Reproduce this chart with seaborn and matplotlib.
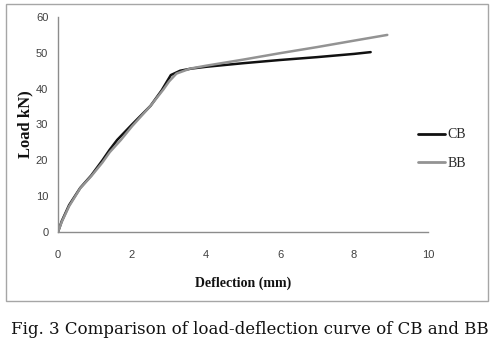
import matplotlib
matplotlib.use("Agg")
import matplotlib.pyplot as plt
import seaborn as sns
import pandas as pd
from matplotlib.patches import Rectangle

# Data
cb_deflection = [0, 0.1, 0.3, 0.6, 0.9, 1.2, 1.4, 1.6, 2.0, 2.5, 2.8, 3.05, 3.3, 3.6, 4.0, 5.0, 6.0, 7.0, 8.0, 8.45]
cb_load = [0, 3, 7.5, 12.3, 15.8, 20.0, 23.0, 25.7, 30.0, 35.2, 39.5, 43.8, 45.0, 45.6, 46.1, 47.1, 48.0, 48.8, 49.7, 50.2]
bb_deflection = [0, 0.1, 0.3, 0.6, 0.9, 1.2, 1.4, 1.7, 2.0, 2.5, 2.85, 3.0, 3.2, 3.57, 4.0, 5.0, 6.0, 7.0, 8.0, 8.9]
bb_load = [0, 2.8, 7.2, 12.2, 15.6, 19.4, 22.3, 25.7, 29.5, 35.2, 39.8, 42.0, 44.2, 45.6, 46.4, 48.1, 49.9, 51.6, 53.4, 55.0]
series = ["CB", "BB"]
x_ticks = [0, 2, 4, 6, 8, 10]
y_ticks = [0, 10, 20, 30, 40, 50, 60]

df = pd.concat([
    pd.DataFrame({"Deflection": cb_deflection, "Load": cb_load, "Beam": "CB"}),
    pd.DataFrame({"Deflection": bb_deflection, "Load": bb_load, "Beam": "BB"}),
])

sns.set_theme(style="white")
plt.rcParams["font.family"] = ["Liberation Serif", "DejaVu Serif"]

W, H = 498, 343
fig = plt.figure(figsize=(W / 100, H / 100), dpi=100)

# outer frame
fig.patches.append(Rectangle((6 / W, 1 - 301 / H), (488 - 6) / W, (301 - 4) / H,
                             transform=fig.transFigure, fill=False,
                             edgecolor="#a6a6a6", linewidth=1.0))

ax = fig.add_axes([58 / W, 1 - 232 / H, (428 - 58) / W, (232 - 17) / H])
sns.lineplot(data=df, x="Deflection", y="Load", hue="Beam", hue_order=series,
             palette={"CB": "#111111", "BB": "#939393"}, sort=False,
             estimator=None, linewidth=1.8, ax=ax)

ax.set_xlim(0, 10)
ax.set_ylim(0, 60)
ax.set_xticks(x_ticks)
ax.set_yticks(y_ticks)
tick_font = ["Liberation Sans", "DejaVu Sans"]
ax.set_xticklabels([str(v) for v in x_ticks], family=tick_font, fontsize=8, color="#404040")
ax.set_yticklabels([str(v) for v in y_ticks], family=tick_font, fontsize=8, color="#404040")
ax.tick_params(axis="x", length=0, pad=13)
ax.tick_params(axis="y", length=0, pad=7)
for s in ["top", "right"]:
    ax.spines[s].set_visible(False)
for s in ["left", "bottom"]:
    ax.spines[s].set_color("#8c8c8c")
    ax.spines[s].set_linewidth(1.0)
ax.grid(False)
ax.set_facecolor("white")

ax.set_xlabel("Deflection (mm)", fontsize=10, fontweight="bold", color="#111111", labelpad=12)
ax.set_ylabel("Load kN)", fontsize=12, fontweight="bold", color="#111111", labelpad=2)

leg = ax.legend(loc="center left", bbox_to_anchor=(405 / W, 1 - 149 / H),
                bbox_transform=fig.transFigure, frameon=False,
                prop={"family": "Liberation Serif", "size": 10},
                handlelength=2.0, handletextpad=0.15, labelspacing=1.1)
for line in leg.get_lines():
    line.set_linewidth(2.0)

fig.text(250 / W, 1 - 330 / H, "Fig. 3 Comparison of load-deflection curve of CB and BB",
         ha="center", va="center", fontsize=12.0, color="#111111",
         family=["DejaVu Serif"])

fig.savefig("out.png", dpi=100, facecolor="white")
